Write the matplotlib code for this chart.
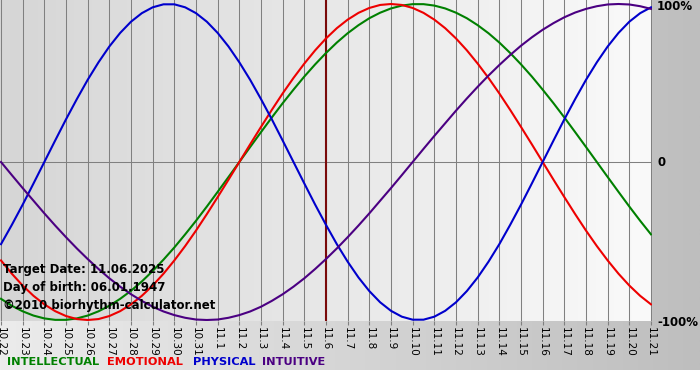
import matplotlib
matplotlib.use("Agg")
import matplotlib.pyplot as plt
import numpy as np

# etiquetas de los dias (mes.dia)
dias = ["10.22", "10.23", "10.24", "10.25", "10.26", "10.27", "10.28", "10.29", "10.30", "10.31",
        "11.1", "11.2", "11.3", "11.4", "11.5", "11.6", "11.7", "11.8", "11.9", "11.10",
        "11.11", "11.12", "11.13", "11.14", "11.15", "11.16", "11.17", "11.18", "11.19", "11.20",
        "11.21"]

# valores en %, cada medio dia (de 10.22 a 11.21)
intelectual = [-86.6, -91.0, -94.5, -97.2, -99.0, -99.9, -99.9, -99.0, -97.2, -94.5,
               -91.0, -86.6, -81.5, -75.6, -69.0, -61.8, -54.1, -45.8, -37.2, -28.2,
               -18.9, -9.5, 0.0, 9.5, 18.9, 28.2, 37.2, 45.8, 54.1, 61.8,
               69.0, 75.6, 81.5, 86.6, 91.0, 94.5, 97.2, 99.0, 99.9, 99.9,
               99.0, 97.2, 94.5, 91.0, 86.6, 81.5, 75.6, 69.0, 61.8, 54.1,
               45.8, 37.2, 28.2, 18.9, 9.5, 0.0, -9.5, -18.9, -28.2, -37.2,
               -45.8]
emocional = [-62.3, -70.7, -78.2, -84.7, -90.1, -94.4, -97.5, -99.4, -100.0, -99.4,
             -97.5, -94.4, -90.1, -84.7, -78.2, -70.7, -62.3, -53.2, -43.4, -33.0,
             -22.2, -11.2, 0.0, 11.2, 22.2, 33.0, 43.4, 53.2, 62.3, 70.7,
             78.2, 84.7, 90.1, 94.4, 97.5, 99.4, 100.0, 99.4, 97.5, 94.4,
             90.1, 84.7, 78.2, 70.7, 62.3, 53.2, 43.4, 33.0, 22.2, 11.2,
             0.0, -11.2, -22.2, -33.0, -43.4, -53.2, -62.3, -70.7, -78.2, -84.7,
             -90.1]
fisico = [-52.0, -39.8, -27.0, -13.6, 0.0, 13.6, 27.0, 39.8, 52.0, 63.1,
          73.1, 81.7, 88.8, 94.2, 97.9, 99.8, 99.8, 97.9, 94.2, 88.8,
          81.7, 73.1, 63.1, 52.0, 39.8, 27.0, 13.6, 0.0, -13.6, -27.0,
          -39.8, -52.0, -63.1, -73.1, -81.7, -88.8, -94.2, -97.9, -99.8, -99.8,
          -97.9, -94.2, -88.8, -81.7, -73.1, -63.1, -52.0, -39.8, -27.0, -13.6,
          0.0, 13.6, 27.0, 39.8, 52.0, 63.1, 73.1, 81.7, 88.8, 94.2,
          97.9]
intuitivo = [0.0, -8.3, -16.5, -24.5, -32.5, -40.2, -47.6, -54.7, -61.4, -67.7,
             -73.6, -78.9, -83.7, -87.9, -91.6, -94.6, -96.9, -98.6, -99.7, -100.0,
             -99.7, -98.6, -96.9, -94.6, -91.6, -87.9, -83.7, -78.9, -73.6, -67.7,
             -61.4, -54.7, -47.6, -40.2, -32.5, -24.5, -16.5, -8.3, 0.0, 8.3,
             16.5, 24.5, 32.5, 40.2, 47.6, 54.7, 61.4, 67.7, 73.6, 78.9,
             83.7, 87.9, 91.6, 94.6, 96.9, 98.6, 99.7, 100.0, 99.7, 98.6,
             96.9]

dia_objetivo = "11.6"
fecha_objetivo = "11.06.2025"
fecha_nacimiento = "06.01.1947"

series = [("INTELLECTUAL", intelectual, "#008000"),
          ("EMOTIONAL", emocional, "#ee0000"),
          ("PHYSICAL", fisico, "#0000cc"),
          ("INTUITIVE", intuitivo, "#4b0082")]

W, H = 700, 380
fig = plt.figure(figsize=(7, 3.8), dpi=100)
fig.patch.set_facecolor("white")

# fondo exterior con degradado (claro a la izquierda, oscuro a la derecha)
fondo = fig.add_axes([0, 10 / H, 1, 370 / H], zorder=-10)
grad = np.linspace(0, 1, 256).reshape(1, -1)
cmap_fondo = matplotlib.colors.LinearSegmentedColormap.from_list("f", ["#ececec", "#bebebe"])
fondo.imshow(grad, aspect="auto", cmap=cmap_fondo, extent=[0, 1, 0, 1])
fondo.axis("off")

# area del grafico
px_dia = 650 / 30
ax = fig.add_axes([0, (H - 321) / H, 652 / W, 321 / H])
x = np.arange(len(dias))
x_medio = np.arange(len(fisico)) / 2
ax.set_xlim(-1 / px_dia, 30 + 1 / px_dia)
ax.set_ylim(-100 - 1 / 1.58, 100 + 4 / 1.58)

cmap_area = matplotlib.colors.LinearSegmentedColormap.from_list("a", ["#d6d6d6", "#fafafa"])
ax.imshow(grad, aspect="auto", cmap=cmap_area, extent=[*ax.get_xlim(), *ax.get_ylim()], zorder=0)

for xi in x:
    ax.axvline(xi, color="#808080", lw=0.75, zorder=1)
ax.axhline(0, color="#808080", lw=0.75, zorder=1)
ax.axvline(dias.index(dia_objetivo), color="#7a0a0a", lw=1.5, zorder=2)

for nombre, valores, color in series:
    ax.plot(x_medio, valores, color=color, lw=1.5, zorder=3, solid_joinstyle="round")

for s in ax.spines.values():
    s.set_visible(False)
ax.set_xticks(x)
ax.set_xticklabels(dias, rotation=270, fontsize=7.5)
ax.tick_params(axis="x", length=3, color="#808080", pad=1)
ax.set_yticks([])

# textos informativos
estilo = dict(fontsize=8.5, fontweight="bold", color="black", va="center", ha="left")
ax.text(3 / 652, (321 - 270) / 321, f"Target Date: {fecha_objetivo}", transform=ax.transAxes, zorder=4, **estilo)
ax.text(3 / 652, (321 - 287) / 321, f"Day of birth: {fecha_nacimiento}", transform=ax.transAxes, zorder=4, **estilo)
ax.text(3 / 652, (321 - 306) / 321, "\u00a92010 biorhythm-calculator.net", transform=ax.transAxes, zorder=4, **estilo)

# etiquetas del eje derecho
for etiqueta, ypx in [("100%", 6), ("0", 162), ("-100%", 322)]:
    fig.text(657 / W, 1 - ypx / H, etiqueta, fontsize=8.5, fontweight="bold", va="center", ha="left")

# leyenda de colores
for (nombre, _, color), xpx in zip(series, [7, 107, 193, 262]):
    fig.text(xpx / W, 1 - 362 / H, nombre, color=color, fontsize=8.2, fontweight="bold", va="center", ha="left")

fig.savefig("out.png", dpi=100)
